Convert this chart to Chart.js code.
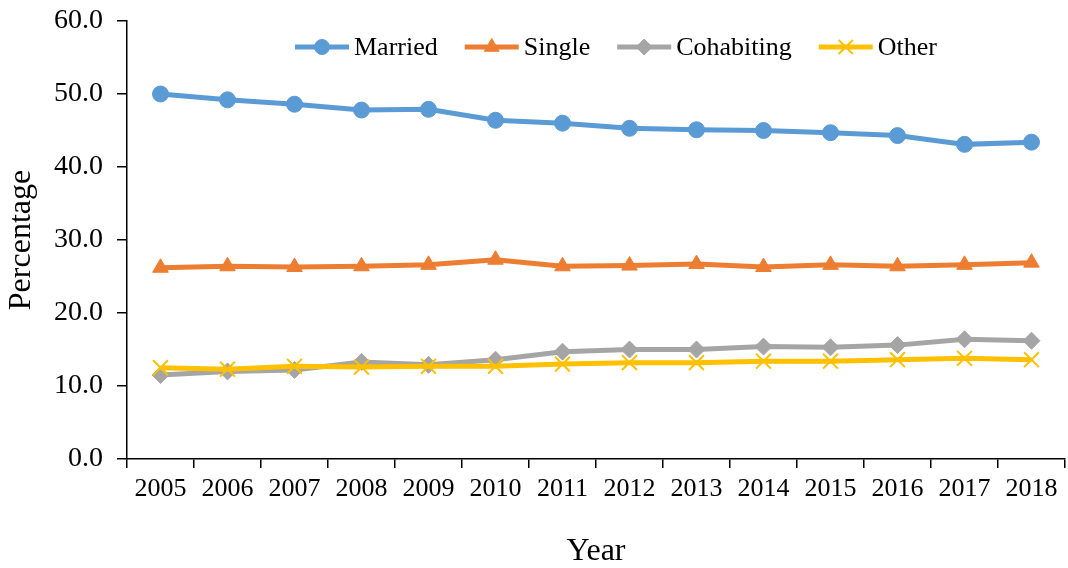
<!DOCTYPE html>
<html>
<head>
<meta charset="utf-8">
<title>Household composition by year</title>
<script src="https://cdn.jsdelivr.net/npm/chart.js@4.4.1/dist/chart.umd.min.js"></script>
<style>
  html, body { margin: 0; padding: 0; background: #ffffff; }
  #wrap { width: 1068px; height: 568px; }
</style>
</head>
<body>
<div id="wrap"><canvas id="chart" width="1068" height="568"></canvas></div>
<script>
// Years on the category axis
const years = ['2005', '2006', '2007', '2008', '2009', '2010', '2011',
               '2012', '2013', '2014', '2015', '2016', '2017', '2018'];

// Share of each group, in percent
const married    = [50.0, 49.2, 48.6, 47.8, 47.9, 46.4, 46.0, 45.3, 45.1, 45.0, 44.7, 44.3, 43.1, 43.4];
const single     = [26.2, 26.4, 26.3, 26.4, 26.6, 27.3, 26.4, 26.5, 26.7, 26.3, 26.6, 26.4, 26.6, 26.9];
const cohabiting = [11.5, 12.0, 12.2, 13.3, 12.9, 13.6, 14.7, 15.0, 15.0, 15.4, 15.3, 15.6, 16.4, 16.2];
const other      = [12.5, 12.3, 12.7, 12.6, 12.7, 12.7, 13.0, 13.2, 13.2, 13.4, 13.4, 13.6, 13.8, 13.6];

// Value axis range and step
const yMin = 0;
const yMax = 60;
const yStep = 10;

const FONT = '"Liberation Serif", "Times New Roman", Times, serif';

function series(label, data, color, style, radius, order, pointBorder) {
  return {
    label: label,
    data: data,
    borderColor: color,
    backgroundColor: color,
    borderWidth: 5,
    pointStyle: style,
    pointRadius: radius,
    pointHoverRadius: radius,
    pointBackgroundColor: color,
    pointBorderColor: color,
    pointBorderWidth: pointBorder,
    tension: 0,
    fill: false,
    clip: false,
    order: order
  };
}

// Legend drawn inside the plot area, near its top
const insideLegend = {
  id: 'insideLegend',
  afterDatasetsDraw(chart) {
    const ctx = chart.ctx;
    const area = chart.chartArea;
    const lineLen = 54, gapText = 5, gapItem = 27;
    const y = area.top + 26;
    let x = area.left + 168;
    ctx.save();
    ctx.font = '26px ' + FONT;
    ctx.textBaseline = 'middle';
    ctx.textAlign = 'left';
    chart.data.datasets.forEach(ds => {
      ctx.strokeStyle = ds.borderColor;
      ctx.fillStyle = ds.backgroundColor;
      ctx.lineWidth = 5;
      ctx.lineCap = 'butt';
      ctx.beginPath();
      ctx.moveTo(x, y);
      ctx.lineTo(x + lineLen, y);
      ctx.stroke();
      ctx.lineWidth = ds.pointBorderWidth;
      Chart.helpers.drawPoint(ctx, {
        pointStyle: ds.pointStyle,
        radius: ds.pointRadius - 0.5,
        borderWidth: ds.pointBorderWidth,
        rotation: 0
      }, x + lineLen / 2, y);
      ctx.fillStyle = '#000000';
      ctx.fillText(ds.label, x + lineLen + gapText, y + 1);
      x += lineLen + gapText + ctx.measureText(ds.label).width + gapItem;
    });
    ctx.restore();
  }
};

new Chart(document.getElementById('chart'), {
  type: 'line',
  data: {
    labels: years,
    datasets: [
      series('Married', married, '#5B9BD5', 'circle', 8, 3, 1),
      series('Single', single, '#ED7D31', 'triangle', 9, 2, 1),
      series('Cohabiting', cohabiting, '#A5A5A5', 'rectRot', 8.5, 1, 1),
      series('Other', other, '#FFC000', 'crossRot', 10.5, 0, 2)
    ]
  },
  options: {
    responsive: false,
    devicePixelRatio: 1,
    animation: false,
    layout: { autoPadding: false, padding: { top: 21, right: 3, bottom: 0, left: 0 } },
    plugins: {
      legend: { display: false },
      tooltip: { enabled: false },
      title: { display: false }
    },
    scales: {
      x: {
        type: 'category',
        offset: true,
        grid: {
          offset: true,
          drawOnChartArea: false,
          drawTicks: true,
          tickLength: 9,
          color: '#000000',
          lineWidth: 1.5
        },
        border: { display: true, color: '#000000', width: 1.5 },
        ticks: {
          autoSkip: false,
          maxRotation: 0,
          minRotation: 0,
          padding: 6,
          color: '#000000',
          font: { family: FONT, size: 26 }
        },
        title: {
          display: true,
          text: 'Year',
          color: '#000000',
          font: { family: FONT, size: 32, lineHeight: 1 },
          padding: { top: 0, bottom: 0 }
        },
        afterFit(scale) {
          scale.height = 109;
          scale.paddingLeft = 0;
          scale.paddingRight = 0;
        }
      },
      y: {
        min: yMin,
        max: yMax,
        grid: {
          drawOnChartArea: false,
          drawTicks: true,
          tickLength: 10,
          color: '#000000',
          lineWidth: 1.5
        },
        border: { display: true, color: '#000000', width: 1.5 },
        ticks: {
          stepSize: yStep,
          padding: 14,
          color: '#000000',
          font: { family: FONT, size: 28 },
          callback: v => Number(v).toFixed(1)
        },
        title: {
          display: true,
          text: 'Percentage',
          color: '#000000',
          font: { family: FONT, size: 32, lineHeight: 1 },
          padding: { top: 6, bottom: 0 }
        },
        afterFit(scale) {
          scale.width = 127;
          scale.paddingTop = 0;
          scale.paddingBottom = 0;
        }
      }
    }
  },
  plugins: [insideLegend]
});
</script>
</body>
</html>
